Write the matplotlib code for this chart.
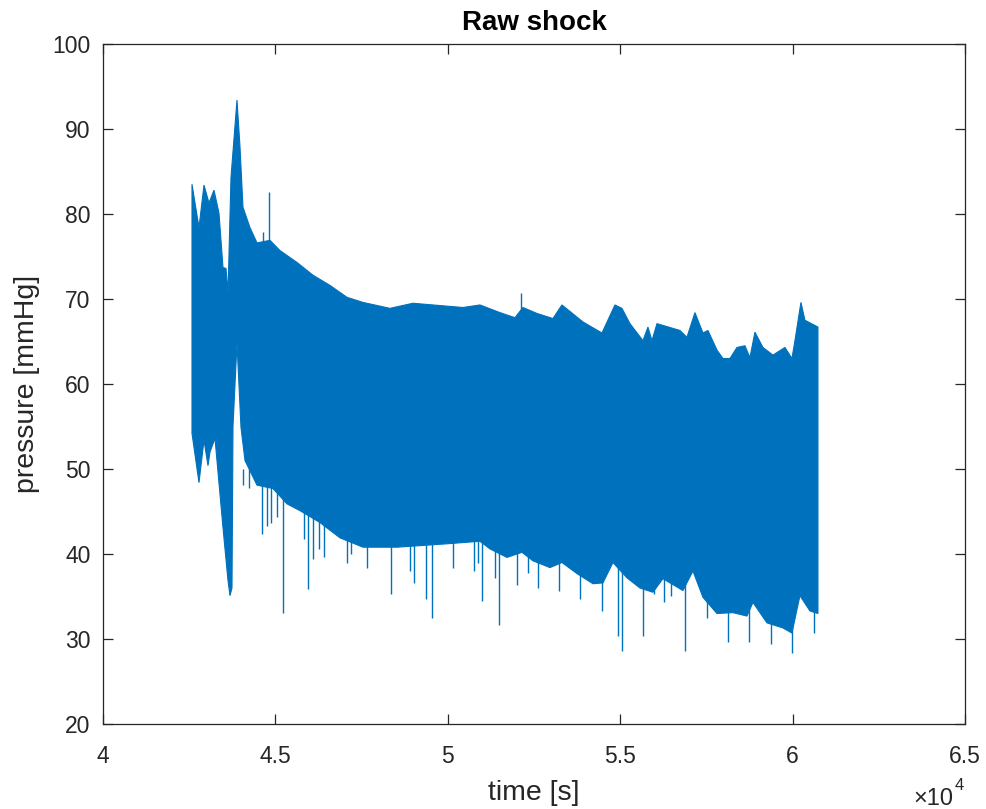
import numpy as np
import matplotlib
matplotlib.use('Agg')
import matplotlib.pyplot as plt

# Upper envelope of the raw pressure trace (time [s], pressure [mmHg])
upper_t = [42581, 42784, 42929, 43074, 43219, 43364, 43480, 43567, 43625, 43712,
           43886, 43973, 44060, 44263, 44466, 44843, 45133, 45626, 46090, 46583,
           47076, 47540, 48323, 48990, 50440, 50933, 51513, 51948, 52180, 52586,
           53050, 53311, 53920, 54471, 54848, 55051, 55283, 55660, 55805, 55921,
           56066, 56733, 56936, 57168, 57400, 57545, 57806, 57980, 58183, 58386,
           58618, 58763, 58908, 59140, 59430, 59778, 59981, 60068, 60242, 60358,
           60735]
upper_p = [83.5, 78.4, 83.4, 81.3, 82.8, 80.1, 73.7, 73.6, 70.7, 84.3,
           93.4, 87.9, 80.8, 78.4, 76.6, 76.9, 75.7, 74.3, 72.8, 71.6,
           70.2, 69.6, 68.9, 69.5, 69.0, 69.3, 68.4, 67.8, 69.0, 68.3,
           67.7, 69.3, 67.3, 66.0, 69.3, 68.9, 67.1, 65.1, 66.7, 65.1,
           67.1, 66.3, 65.5, 68.4, 66.0, 66.3, 64.0, 63.0, 63.0, 64.3,
           64.5, 63.1, 66.1, 64.3, 63.4, 64.3, 63.0, 65.1, 69.6, 67.5,
           66.7]

# Lower envelope
lower_t = [42581, 42784, 42929, 43045, 43103, 43248, 43480, 43625, 43683, 43741,
           43770, 43886, 44002, 44118, 44466, 44930, 45336, 45713, 46293, 46873,
           47540, 48526, 49976, 50933, 51223, 51716, 52151, 52470, 52963, 53311,
           53746, 54210, 54500, 54790, 55196, 55573, 55950, 56240, 56820, 57110,
           57400, 57806, 58270, 58676, 58850, 59256, 59720, 59981, 60213, 60503,
           60735]
lower_p = [54.2, 48.4, 53.4, 50.4, 52.0, 53.6, 43.1, 36.9, 35.1, 36.0,
           55.0, 64.8, 54.9, 51.0, 48.1, 47.7, 45.9, 45.1, 43.7, 41.9,
           40.8, 40.8, 41.2, 41.5, 40.6, 39.6, 40.2, 39.2, 38.4, 39.0,
           37.7, 36.5, 36.6, 39.0, 37.2, 36.0, 35.5, 37.1, 35.7, 38.0,
           34.9, 33.0, 33.1, 32.7, 34.3, 31.9, 31.3, 30.7, 35.1, 33.3,
           33.0]

# Isolated downward artefacts: time and minimum pressure
dip_t = [44060, 44234, 44611, 44756, 44872, 45046, 45220, 45829, 45945, 46090,
         46264, 46409, 47076, 47192, 47656, 48352, 48903, 49019, 49367, 49541,
         50150, 50759, 50875, 50991, 51368, 51484, 52006, 52325, 52615, 53224,
         53833, 54471, 54935, 55051, 55660, 55979, 56269, 56472, 56878, 57516,
         58125, 58734, 59372, 59981, 60619]
dip_p = [48.1, 47.8, 42.4, 43.3, 43.7, 44.3, 33.1, 41.8, 35.9, 39.4,
         40.6, 39.6, 38.9, 40.0, 38.4, 35.3, 38.0, 36.6, 34.7, 32.5,
         38.3, 38.0, 39.0, 34.5, 37.2, 31.6, 36.3, 37.8, 36.0, 35.7,
         34.7, 33.3, 30.4, 28.6, 30.4, 35.3, 34.3, 35.1, 28.6, 32.5,
         29.6, 29.6, 29.4, 28.3, 30.7]

# Upward artefacts
peak_t = [44640, 44814, 52122]
peak_p = [77.9, 82.6, 70.7]

blue = '#0072BD'
axcol = '#262626'

plt.rcParams['font.family'] = ['Liberation Sans', 'DejaVu Sans']

fig = plt.figure(figsize=(9.87, 8.09), dpi=100)
ax = fig.add_axes([103 / 987, 85 / 809, 862 / 987, 680 / 809])

# band covering the fast oscillation between envelopes
band_t = np.concatenate([upper_t, lower_t[::-1]])
band_p = np.concatenate([upper_p, lower_p[::-1]])
ax.fill(band_t, band_p, color=blue, lw=0.8, ec=blue, zorder=3)

ax.vlines(dip_t, dip_p, 50, color=blue, lw=1.0, zorder=2)
ax.vlines(peak_t, 60, peak_p, color=blue, lw=1.0, zorder=2)

ax.set_xlim(40000, 65000)
ax.set_ylim(20, 100)
ax.set_xticks(np.arange(40000, 65001, 5000))
ax.set_xticklabels(['4', '4.5', '5', '5.5', '6', '6.5'])
ax.set_yticks(np.arange(20, 101, 10))

ax.tick_params(direction='in', length=7, width=0.9, colors=axcol,
               labelsize=16.5, top=True, right=True)
ax.tick_params(axis='x', pad=15)
ax.tick_params(axis='y', pad=9)
for s in ax.spines.values():
    s.set_color(axcol)
    s.set_linewidth(0.9)

ax.set_xlabel('time [s]', fontsize=20.5, color=axcol, labelpad=9)
ax.set_ylabel('pressure [mmHg]', fontsize=20.5, color=axcol, labelpad=9)
ax.set_title('Raw shock', fontsize=20, fontweight='bold', color='black', pad=10)

# axis multiplier, drawn as base plus raised exponent
ax.text(0.986, -0.119, '\u00d710', transform=ax.transAxes,
        ha='right', va='baseline', fontsize=17, color=axcol)
ax.text(0.988, -0.097, '4', transform=ax.transAxes,
        ha='left', va='baseline', fontsize=12, color=axcol)

fig.savefig('out.png', dpi=100)
